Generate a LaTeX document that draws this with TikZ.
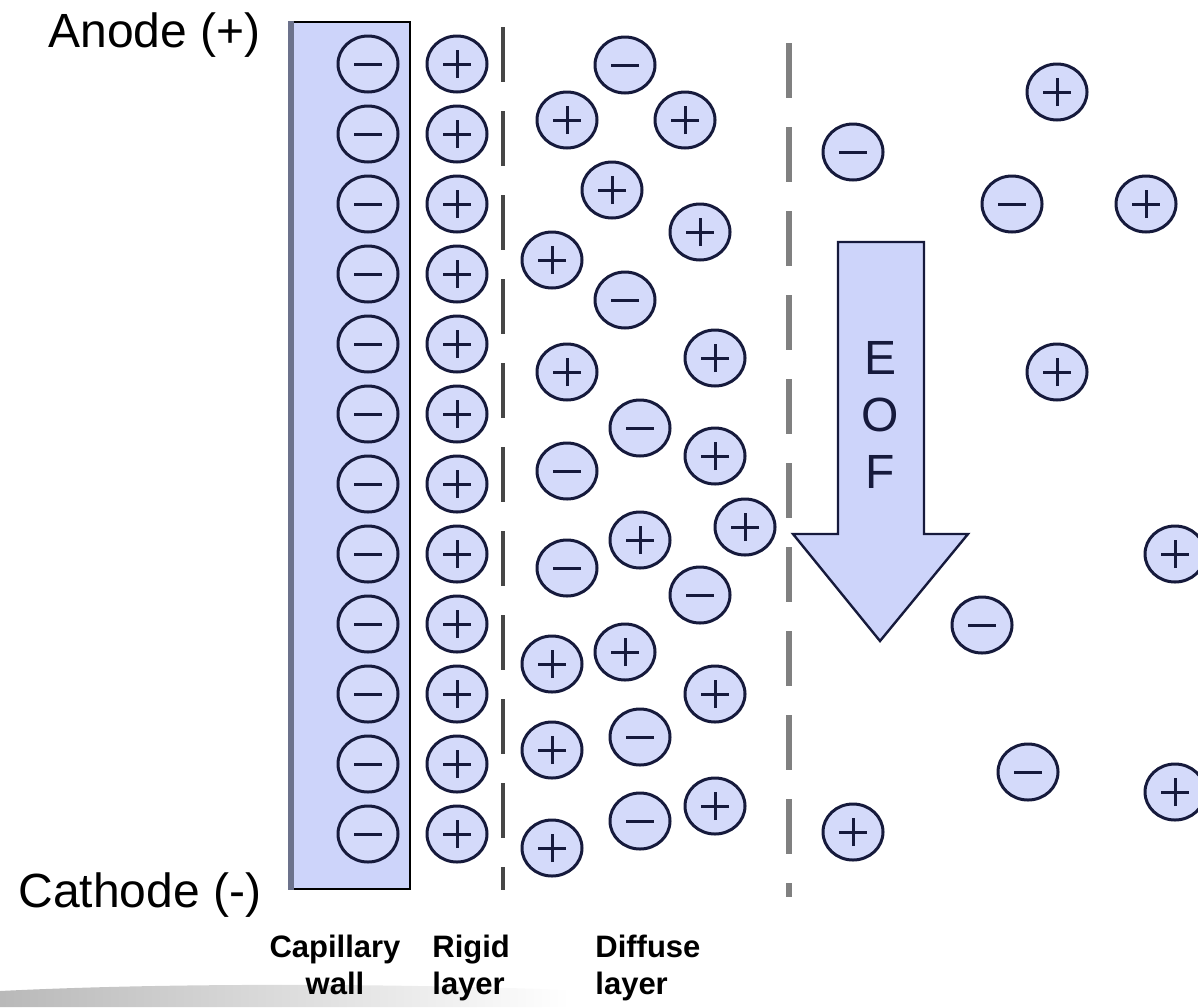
\documentclass[tikz,border=0pt]{standalone}
\usepackage{fontspec}
\setmainfont{Liberation Sans}
\usetikzlibrary{positioning, shapes.geometric}
\definecolor{ionblue}{RGB}{212,218,250}
\definecolor{wallblue}{RGB}{205,212,250}
\definecolor{walledge}{RGB}{108,114,140}
\definecolor{ink}{RGB}{22,26,60}
\definecolor{sterndash}{RGB}{70,70,70}
\definecolor{slipdash}{RGB}{128,128,128}

\begin{document}
\begin{tikzpicture}[
    x=0.5pt, y=-0.5pt,
    ion/.style={ellipse, draw=ink, line width=1.5pt, fill=ionblue,
                minimum width=30pt, minimum height=28pt, inner sep=0pt},
    anion/.style={ion, path picture={
        \draw[ink, line width=1.5pt] ([xshift=-7pt]path picture bounding box.center)
          -- ([xshift=7pt]path picture bounding box.center);}},
    cation/.style={ion, path picture={
        \draw[ink, line width=1.5pt] ([xshift=-7pt]path picture bounding box.center)
          -- ([xshift=7pt]path picture bounding box.center);
        \draw[ink, line width=1.5pt] ([yshift=-7pt]path picture bounding box.center)
          -- ([yshift=7pt]path picture bounding box.center);}},
    boundary/.style={line width=2.2pt, dash pattern=on 27.5pt off 14.5pt},
    pole/.style={font=\fontsize{24}{28.5}\selectfont, inner sep=0pt},
    lbl/.style={font=\bfseries\fontsize{15.5}{18.5}\selectfont, inner sep=0pt}
  ]
  \useasboundingbox (0,0) rectangle (1198,1007);

  % soft grey swoosh, lower left
  \shade[left color=gray!55, right color=white]
    (0,1007) -- (0,991) .. controls (160,983) and (380,983) .. (570,990)
    -- (570,1007) -- cycle;

  % capillary wall
  \node[draw=black, line width=1.2pt, fill=wallblue, inner sep=0pt,
        minimum width=60.5pt, minimum height=433.5pt] (wall) at (349.5,455.5) {};
  \draw[walledge, line width=3pt]
    ([xshift=1.5pt]wall.north west) -- ([xshift=1.5pt]wall.south west);

  % layer boundaries
  \coordinate (s1) at (503,27);
  \coordinate (s2) at (503,890);
  \coordinate (p1) at (789,43);
  \coordinate (p2) at (789,897);
  \draw[boundary, sterndash] (s1) -- (s2);
  \draw[boundary, slipdash, line width=2.6pt] (p1) -- (p2);

  % fixed charges and rigid layer
  \foreach \k in {0,...,11} {
    \node[anion] (w\k) at (368,{64+70*\k}) {};
    \node[cation, right=13pt of w\k] (r\k) {};
  }

  % diffuse layer
  \foreach \s/\x/\y [count=\n] in {
      anion/625/65, cation/567/120, cation/685/120, cation/612/190,
      cation/700/232, cation/552/260, anion/625/300, cation/567/372,
      cation/715/358, anion/640/428, anion/567/471, cation/715/456,
      cation/745/527, cation/640/540, anion/567/568, anion/700/595,
      cation/552/664, cation/625/652, cation/715/694, anion/640/737,
      cation/552/750, anion/640/821, cation/715/806, cation/552/848}
    \node[\s] (d\n) at (\x,\y) {};

  % bulk solution
  \foreach \s/\x/\y [count=\n] in {
      anion/853/152, cation/1057/92, anion/1012/204, cation/1146/204,
      cation/1057/372, cation/1175/554, anion/982/625, anion/1028/772,
      cation/1175/792, cation/853/832}
    \node[\s] (b\n) at (\x,\y) {};

  % flow arrow
  \draw[ink, line width=1.2pt, fill=wallblue, line join=miter]
    (838,242) -- (924,242) -- (924,534) -- (968,534) -- (880,641)
    -- (793,534) -- (838,534) -- cycle;
  \node[pole, anchor=north, align=center, text=ink] (eof) at (880,341) {E\\O\\F};

  % electrodes
  \node[pole, anchor=base west] (anode) at (48,47) {Anode (+)};
  \node[pole, anchor=base west] (cathode) at (18,907) {Cathode (-)};

  % layer names
  \node[lbl, anchor=north, align=center] (walllbl) at (335,935) {Capillary\\wall};
  \node[lbl, anchor=north west, align=left] (rigidlbl) at (432,935) {Rigid\\layer};
  \node[lbl, anchor=north west, align=left] (difflbl) at (595,935) {Diffuse\\layer};
\end{tikzpicture}
\end{document}
